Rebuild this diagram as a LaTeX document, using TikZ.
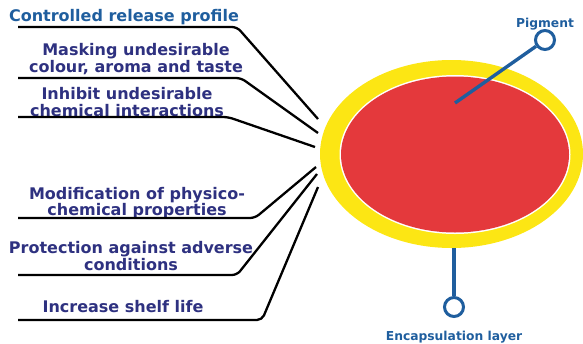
\documentclass[tikz,border=0pt]{standalone}
\usepackage{fontspec}
\setmainfont{DejaVu Sans}
\usepackage{tikz}
\definecolor{navy}{RGB}{46,49,128}
\definecolor{capblue}{RGB}{31,94,158}
\definecolor{capred}{RGB}{228,57,60}
\definecolor{capyellow}{RGB}{252,230,20}
\tikzset{
  benefit/.style={text=navy, font=\bfseries\fontsize{16}{16.5}\selectfont, align=center, inner sep=0pt},
  leader/.style={black, line width=2.3pt, rounded corners=5pt},
  pin/.style={draw=capblue, line width=3pt, fill=white, circle, minimum size=19pt, inner sep=0pt},
  pinline/.style={capblue, line width=3.4pt},
  partlabel/.style={text=capblue, font=\bfseries\fontsize{12.3}{14}\selectfont, inner sep=0pt}
}
\begin{document}
\begin{tikzpicture}[x=1pt,y=1pt,yscale=-1,xscale=1]
\useasboundingbox (0,0) rectangle (583,343);

% Capsule
\fill[capyellow] (451.5,154) ellipse [x radius=131.5, y radius=94];
\fill[white] (455,154.5) ellipse [x radius=115.5, y radius=79.5];
\fill[capred] (455,154.5) ellipse [x radius=114, y radius=78];

% Text Node
\node[benefit, text=capblue] (release) at (124,17) {Controlled release profile};
\node[benefit] (masking) at (136,59) {Masking undesirable\\colour, aroma and taste};
\node[benefit] (inhibit) at (127,102) {Inhibit undesirable\\chemical interactions};
\node[benefit] (modify) at (137,203) {Modification of physico-\\chemical properties};
\node[benefit] (protect) at (131,256) {Protection against adverse\\conditions};
\node[benefit] (shelf) at (123,307) {Increase shelf life};

% Leader coordinates
\coordinate (r0) at (18,27);   \coordinate (r1) at (237,27);  \coordinate (r2) at (318,119);
\coordinate (m0) at (18,78);   \coordinate (m1) at (241,78);  \coordinate (m2) at (318,133);
\coordinate (i0) at (18,117);  \coordinate (i1) at (228,117); \coordinate (i2) at (315,147);
\coordinate (p0) at (18,218);  \coordinate (p1) at (255,218); \coordinate (p2) at (316,167);
\coordinate (a0) at (18,275);  \coordinate (a1) at (237,275); \coordinate (a2) at (317,174);
\coordinate (s0) at (18,320);  \coordinate (s1) at (262,320); \coordinate (s2) at (318,187);

% Leaders
\draw[leader] (r0) -- (r1) -- (r2);
\draw[leader] (m0) -- (m1) -- (m2);
\draw[leader] (i0) -- (i1) -- (i2);
\draw[leader] (p0) -- (p1) -- (p2);
\draw[leader] (a0) -- (a1) -- (a2);
\draw[leader] (s0) -- (s1) -- (s2);

% Pigment
\coordinate (core) at (455,103);
\node[pin] (pigdot) at (545,40) {};
\draw[pinline] (core) -- (pigdot);
\node[partlabel] (pigment) at (545,24) {Pigment};

% Encapsulation layer
\coordinate (shell) at (454,248);
\node[pin] (encdot) at (454,307) {};
\draw[pinline] (shell) -- (encdot);
\node[partlabel] (encap) at (454,337) {Encapsulation layer};

\end{tikzpicture}
\end{document}
